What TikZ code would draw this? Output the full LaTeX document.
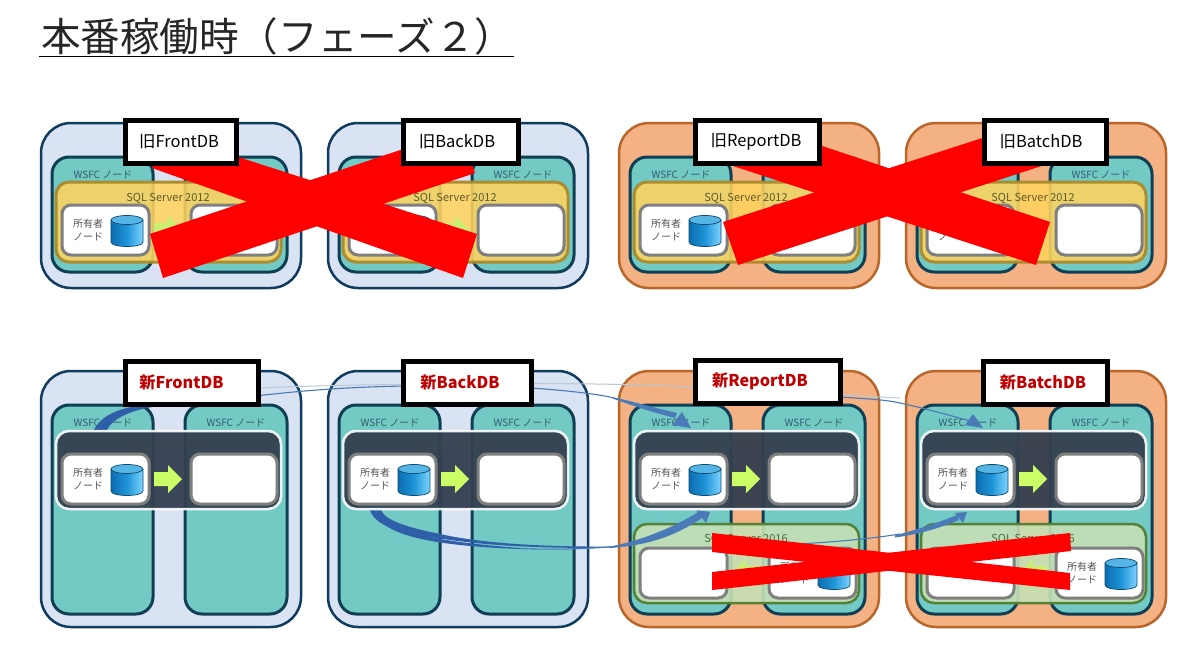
\documentclass[tikz,border=0pt]{standalone}
\usepackage{fontspec}
\setmainfont{Noto Sans CJK JP}
\usetikzlibrary{calc}
\definecolor{bluefill}{HTML}{DAE3F3}
\definecolor{blueline}{HTML}{0F3B5E}
\definecolor{orgfill}{HTML}{F4B183}
\definecolor{orgline}{HTML}{B9662A}
\definecolor{tealfill}{HTML}{73C9C4}
\definecolor{tealline}{HTML}{0E3F55}
\definecolor{yelfill}{HTML}{FFD45F}
\definecolor{yelline}{HTML}{AB8A2C}
\definecolor{grnfill}{HTML}{C5E0B4}
\definecolor{grnline}{HTML}{548235}
\definecolor{darkfill}{HTML}{333F50}
\definecolor{wline}{HTML}{7F7F7F}
\definecolor{arrowgrn}{HTML}{CCFF66}
\definecolor{arrowmuted}{HTML}{C8F070}
\definecolor{linkblue}{HTML}{2F5FA8}
\definecolor{linkthin}{HTML}{4A7AB8}
\definecolor{linklight}{HTML}{B8CAD8}
\definecolor{redtxt}{HTML}{C00000}
\definecolor{nodetxt}{HTML}{2F5F6B}
\definecolor{sqltxt}{HTML}{5F5A30}
\definecolor{owntxt}{HTML}{555555}
\definecolor{cylA}{HTML}{0B6DB0}
\definecolor{cylB}{HTML}{1F95D8}
\definecolor{cylC}{HTML}{7FD4FF}
\definecolor{cylTop}{HTML}{55B5E5}
\definecolor{cylLine}{HTML}{0A4A70}
\definecolor{darktxt}{HTML}{41454F}
\definecolor{grntxt}{HTML}{4F6A3A}
\tikzset{
  x=1pt,y=-1pt,
  every node/.style={inner sep=0pt,outer sep=0pt},
  bxblue/.style={draw=blueline,fill=bluefill,line width=2.5pt,rounded corners=30pt},
  bxorg/.style={draw=orgline,fill=orgfill,line width=2.5pt,rounded corners=30pt},
  wsfc/.style={draw=tealline,fill=tealfill,line width=3pt,rounded corners=17pt},
  sqlold/.style={draw=yelline,fill=yelfill,fill opacity=.88,draw opacity=.95,line width=3pt,rounded corners=13pt},
  sqlgrn/.style={draw=grnline,fill=grnfill,fill opacity=.9,line width=2.5pt,rounded corners=13pt},
  sqldark/.style={draw=white,draw opacity=.9,fill=darkfill,fill opacity=.95,line width=2.5pt,rounded corners=13pt},
  whitebox/.style={draw=wline,fill=white,line width=3pt,rounded corners=9pt},
  labelbox/.style={draw=black,fill=white,line width=5pt},
  nodetext/.style={text=nodetxt,font=\fontsize{10}{12}\selectfont,yshift=-1pt},
  sqltext/.style={text=sqltxt,font=\fontsize{11}{12}\selectfont,yshift=-1.5pt},
  owntext/.style={text=owntxt,font=\fontsize{10}{12}\selectfont,anchor=west},
  crossband/.style={fill=red},
  movearrow/.style={fill=arrowgrn},
  movemuted/.style={fill=arrowmuted},
}
\newcommand\bxn[6]{%
  \pgfmathsetmacro\bxw{(#5)-(#3)}\pgfmathsetmacro\bxh{(#6)-(#4)}%
  \pgfmathsetmacro\bxx{((#5)+(#3))/2}\pgfmathsetmacro\bxy{((#6)+(#4))/2}%
  \node[#1,minimum width=\bxw pt,minimum height=\bxh pt] (#2) at (\bxx,\bxy) {};}
\newcommand\lbl[7]{%
  \pgfmathsetmacro\bxw{(#4)-(#2)}\pgfmathsetmacro\bxh{(#5)-(#3)}%
  \pgfmathsetmacro\bxx{((#4)+(#2))/2}\pgfmathsetmacro\bxy{((#5)+(#3))/2}%
  \pgfmathsetmacro\bxd{2*(\bxx-(#6))}%
  \node[labelbox,minimum width=\bxw pt,minimum height=\bxh pt] (#1) at (\bxx,\bxy) {\raisebox{-1.5pt}{#7}\hspace*{\bxd pt}};}
\newcommand\cyl[2]{%
  \pgfmathsetmacro\cx{#1}\pgfmathsetmacro\cy{#2}%
  \begin{scope}[shift={(\cx,\cy)}]
    \shade[left color=cylA,right color=cylC,middle color=cylB] (0,5) -- (0,27) .. controls (0,33) and (32,33) .. (32,27) -- (32,5) -- cycle;
    \draw[draw=cylLine,line width=.7pt] (0,5) -- (0,27) .. controls (0,33) and (32,33) .. (32,27) -- (32,5);
    \draw[draw=cylLine,fill=cylTop,line width=.7pt] (16,5) ellipse[x radius=16,y radius=4.5];
  \end{scope}}
\newcommand\blk[4]{%
  \pgfmathsetmacro\ax{#1}\pgfmathsetmacro\ay{#2}\pgfmathsetmacro\ad{#3}%
  \begin{scope}[shift={(\ax,\ay)},xscale=\ad]
    \fill[#4] (0,-7) -- (14,-7) -- (14,-14) -- (28,0) -- (14,14) -- (14,7) -- (0,7) -- cycle;
  \end{scope}}
\newcommand\owner[3]{%
  \bxn{whitebox}{#1}{#2}{#3}{(#2)+87}{(#3)+50}
  \pgfmathsetmacro\ox{(#2)+11}\pgfmathsetmacro\oyA{(#3)+19}\pgfmathsetmacro\oyB{(#3)+32}%
  \node[owntext] (#1a) at (\ox,\oyA) {所有者};
  \node[owntext] (#1b) at (\ox,\oyB) {ノード};
  \cyl{(#2)+49}{(#3)+10}}
\newcommand\wsfcs[4]{%
  \bxn{wsfc}{#1nl}{(#2)+11}{#3}{(#2)+112}{#4}
  \bxn{wsfc}{#1nr}{(#2)+144}{#3}{(#2)+246}{#4}
  \pgfmathsetmacro\tax{(#2)+62}\pgfmathsetmacro\tbx{(#2)+195}\pgfmathsetmacro\tty{(#3)+16.5}%
  \node[nodetext] (#1tl) at (\tax,\tty) {WSFC ノード};
  \node[nodetext] (#1tr) at (\tbx,\tty) {WSFC ノード};}
\newcommand\toppanel[3]{%
  \bxn{#3}{#1out}{#2}{123}{(#2)+260}{288}
  \wsfcs{#1}{#2}{157}{272}
  \bxn{sqlold}{#1sql}{(#2)+15}{182}{(#2)+240}{262}
  \blk{(#2)+113}{230}{1}{movemuted}
  \pgfmathsetmacro\tsx{(#2)+127}%
  \node[sqltext] (#1st) at (\tsx,197) {SQL Server 2012};
  \owner{#1a}{(#2)+21}{205}
  \bxn{whitebox}{#1b}{(#2)+150}{205}{(#2)+236}{255}}
\newcommand\botbase[3]{%
  \bxn{#3}{#1out}{#2}{371}{(#2)+260}{627}
  \wsfcs{#1}{#2}{405}{614}}
\newcommand\botdark[2]{%
  \bxn{sqldark}{#1sql}{(#2)+15}{431}{(#2)+240}{509}
  \pgfmathsetmacro\tsx{(#2)+127}%
  \node[text=darktxt,font=\fontsize{11}{12}\selectfont,yshift=-1.5pt] (#1st) at (\tsx,445) {SQL Server 2016};
  \owner{#1a}{(#2)+21}{454}
  \bxn{whitebox}{#1b}{(#2)+150}{454}{(#2)+236}{504}
  \blk{(#2)+113}{479}{1}{movearrow}}
\newcommand\botgreen[2]{%
  \bxn{sqlgrn}{#1grn}{(#2)+15}{524}{(#2)+240}{603}
  \pgfmathsetmacro\tsx{(#2)+127}%
  \node[text=grntxt,font=\fontsize{11}{12}\selectfont,yshift=-1.5pt] (#1gt) at (\tsx,538) {SQL Server 2016};
  \bxn{whitebox}{#1c}{(#2)+21}{548}{(#2)+108}{598}
  \owner{#1d}{(#2)+150}{548}
  \blk{(#2)+141}{573}{-1}{movemuted}}
\begin{document}
\begin{tikzpicture}
\useasboundingbox (0,0) rectangle (1200,661);
\fill[white] (0,0) rectangle (1200,661);
% title
\node[anchor=base west,text=black!85,font=\fontsize{39.6}{44}\selectfont] (title) at (41,52) {本番稼働時（フェーズ２）};
\coordinate (ulA) at (39,56.5);
\coordinate (ulB) at (514,56.5);
\draw[line width=1.4pt,black] (ulA) -- (ulB);
% top row
\toppanel{t1}{41}{bxblue}
\toppanel{t2}{328}{bxblue}
\toppanel{t3}{619}{bxorg}
\toppanel{t4}{906}{bxorg}
% bottom row base
\botbase{b1}{41}{bxblue}
\botbase{b2}{328}{bxblue}
\botbase{b3}{619}{bxorg}
\botbase{b4}{906}{bxorg}
\botgreen{b3}{619}
\botgreen{b4}{906}
% links
\coordinate (hubTop) at (405,386);
\coordinate (tipRep) at (691,428);
\coordinate (tipBat) at (983,428);
\coordinate (tipRepL) at (710,512);
\coordinate (tipBatL) at (967,512);
\fill[linkblue] (93,432) .. controls (100,414) and (125,403) .. (175,403) -- (175,405) .. controls (140,406) and (112,416) .. (106,432) -- cycle;
\draw[linkthin,line width=1.1pt] (175,404) .. controls (240,400) and (290,388) .. (hubTop);
\draw[linklight,line width=1pt] (258,388) .. controls (320,385) and (560,380) .. (693,387);
\draw[linklight,line width=1pt] (693,387) -- (900,398);
\draw[linkthin,line width=1.1pt] (hubTop) -- (531,388) .. controls (560,390) and (590,393) .. (610,397);
\fill[linkthin] (610,396.5) .. controls (635,402) and (655,408) .. (677,413) -- (675,418) .. controls (655,413) and (630,405) .. (610,397.5) -- cycle;
\fill[linkthin] (682,412) -- (672,425) -- (tipRep) -- cycle;
\draw[linkthin,line width=1.1pt] (840,397) .. controls (870,399) and (885,400) .. (895,402) .. controls (920,407) and (945,414) .. (970,421);
\fill[linkthin] (973,414) -- (965,425) -- (tipBat) -- cycle;
\fill[linkblue] (370,510) .. controls (375,525) and (395,532) .. (437,538) .. controls (480,545) and (540,549) .. (610,547.5) -- (610,546.5) .. controls (540,547) and (480,543) .. (440,534) .. controls (405,527) and (385,520) .. (381,510) -- cycle;
\fill[linkblue] (376,514) .. controls (395,533) and (440,542) .. (520,548) -- (520,549) .. controls (440,546) and (385,537) .. (376,514) -- cycle;
\draw[linkthin,line width=1.1pt] (520,548.5) .. controls (550,550) and (590,549) .. (620,546);
\fill[linkthin] (610,548) .. controls (650,545) and (675,536) .. (702,518) -- (698,512) .. controls (675,527) and (640,541) .. (610,546.5) -- cycle;
\fill[linkthin] (696,510) -- (706,523) -- (tipRepL) -- cycle;
\draw[linkthin,line width=1.1pt] (712,547) .. controls (780,546) and (850,542) .. (900,534);
\fill[linkthin] (895,537.5) .. controls (920,534) and (940,528) .. (959,520) -- (957,515) .. controls (935,524) and (915,530) .. (895,535.5) -- cycle;
\fill[linkthin] (955,513) -- (963,523) -- (tipBatL) -- cycle;
% dark groups and labels
\botdark{b1}{41}
\botdark{b2}{328}
\botdark{b3}{619}
\botdark{b4}{906}
\lbl{n1}{125}{361}{258}{404}{181.5}{\fontsize{16.2}{18}\selectfont\bfseries\textcolor{redtxt}{新FrontDB}}
\lbl{n2}{403}{361}{531}{404}{460}{\fontsize{16.2}{18}\selectfont\bfseries\textcolor{redtxt}{新BackDB}}
\lbl{n3}{695}{360}{840}{403}{760}{\fontsize{16.2}{18}\selectfont\bfseries\textcolor{redtxt}{新ReportDB}}
\lbl{n4}{983}{361}{1107}{404}{1043}{\fontsize{16.2}{18}\selectfont\bfseries\textcolor{redtxt}{新BatchDB}}
% red crosses
\fill[crossband] (150,234) -- (460,130) -- (475,173) -- (163,278) -- cycle;
\fill[crossband] (152,168) -- (170,135) -- (477,234) -- (463,278) -- cycle;
\fill[crossband] (723,222) -- (990,135.5) -- (1050,125) -- (1060,160) -- (738,265) -- cycle;
\fill[crossband] (730,165) -- (745,120) -- (819,145) -- (1050,222) -- (1036,265) -- cycle;
\fill[crossband] (712,533) -- (1070,573) -- (1070,590) -- (712,552) -- cycle;
\fill[crossband] (712,572) -- (1070,533) -- (1071,551) -- (712,590) -- cycle;
% old labels above the crosses
\lbl{p1}{125}{120}{236}{163}{179}{\fontsize{16.5}{18}\selectfont 旧FrontDB}
\lbl{p2}{403}{120}{518}{163}{457}{\fontsize{16.5}{18}\selectfont 旧BackDB}
\lbl{p3}{695}{120}{819}{163}{756}{\fontsize{16.5}{18}\selectfont 旧ReportDB}
\lbl{p4}{984}{120}{1106}{163}{1041}{\fontsize{16.5}{18}\selectfont 旧BatchDB}
\end{tikzpicture}
\end{document}
